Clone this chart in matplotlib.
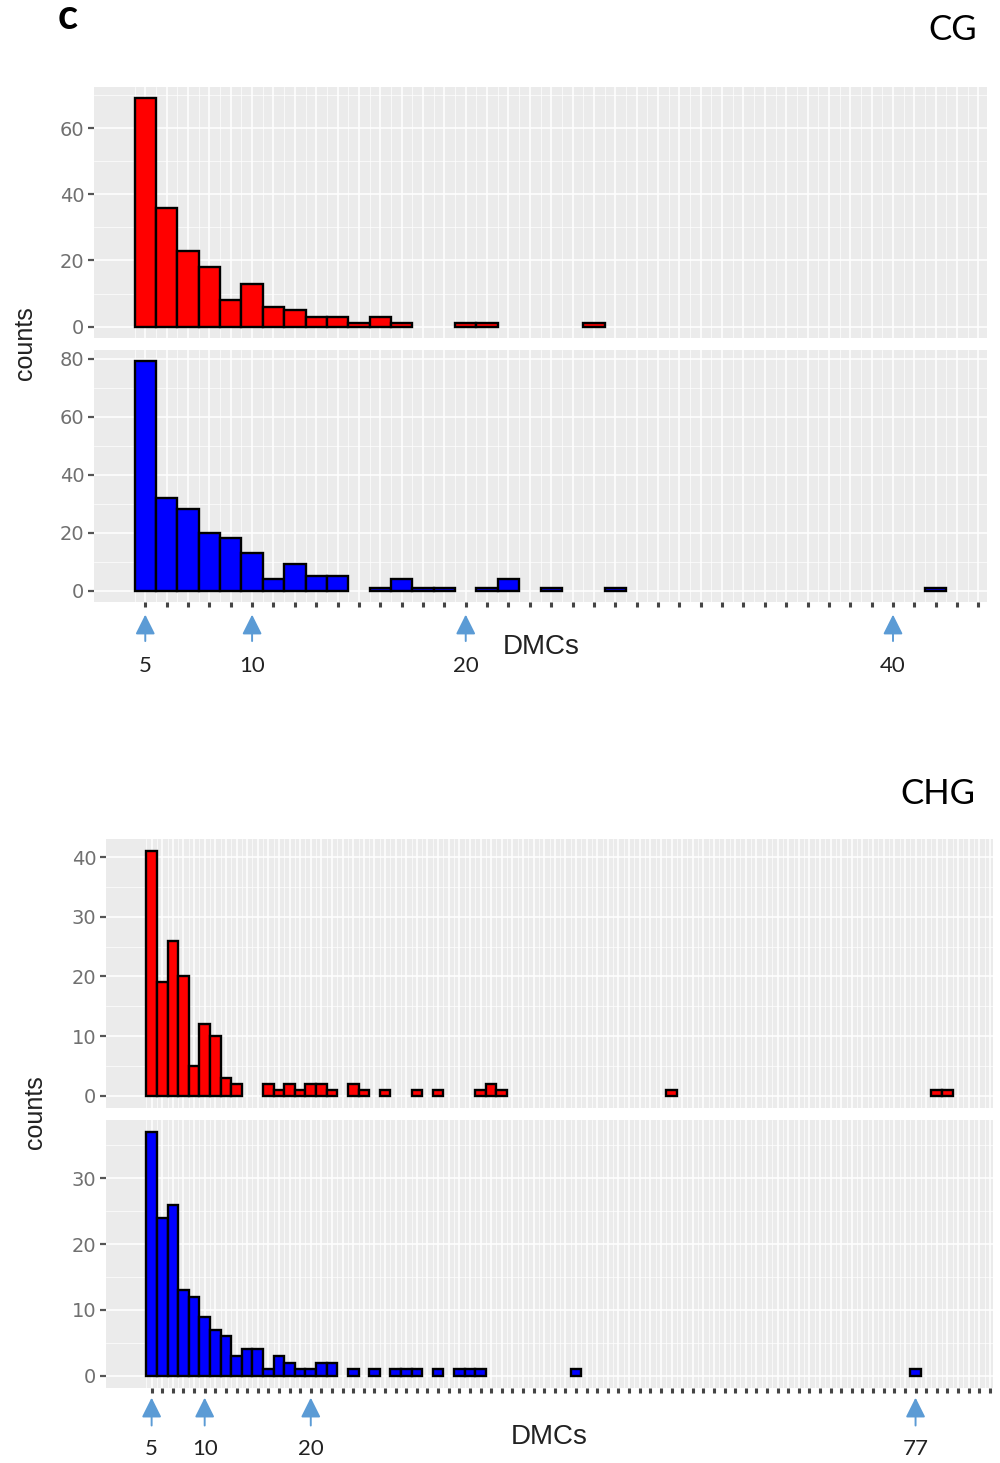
import numpy as np
import matplotlib
matplotlib.use('Agg')
import matplotlib.pyplot as plt
import matplotlib.transforms as mtransforms

# CG: number of DMCs per region vs counts (red = top facet, blue = bottom facet)
cg_dmc_red = [5, 6, 7, 8, 9, 10, 11, 12, 13, 14, 15, 16, 17, 20, 21, 26]
cg_counts_red = [69, 36, 23, 18, 8, 13, 6, 5, 3, 3, 1, 3, 1, 1, 1, 1]
cg_dmc_blue = [5, 6, 7, 8, 9, 10, 11, 12, 13, 14, 16, 17, 18, 19, 21, 22, 24, 27, 42]
cg_counts_blue = [79, 32, 28, 20, 18, 13, 4, 9, 5, 5, 1, 4, 1, 1, 1, 4, 1, 1, 1]
cg_yticks_red = [0, 20, 40, 60]
cg_yticks_blue = [0, 20, 40, 60, 80]
cg_arrows = [5, 10, 20, 40]

# CHG
chg_dmc_red = [5, 6, 7, 8, 9, 10, 11, 12, 13, 16, 17, 18, 19, 20, 21, 22,
               24, 25, 27, 30, 32, 36, 37, 38, 54, 79, 80]
chg_counts_red = [41, 19, 26, 20, 5, 12, 10, 3, 2, 2, 1, 2, 1, 2, 2, 1,
                  2, 1, 1, 1, 1, 1, 2, 1, 1, 1, 1]
chg_dmc_blue = [5, 6, 7, 8, 9, 10, 11, 12, 13, 14, 15, 16, 17, 18, 19, 20, 21, 22,
                24, 26, 28, 29, 30, 32, 34, 35, 36, 45, 77]
chg_counts_blue = [37, 24, 26, 13, 12, 9, 7, 6, 3, 4, 4, 1, 3, 2, 1, 1, 2, 2,
                   1, 1, 1, 1, 1, 1, 1, 1, 1, 1, 1]
chg_yticks_red = [0, 10, 20, 30, 40]
chg_yticks_blue = [0, 10, 20, 30]
chg_arrows = [5, 10, 20, 77]

W, H = 1000, 1463
fig = plt.figure(figsize=(W / 100, H / 100), dpi=100)
fig.patch.set_facecolor('white')

TICK_COLOR = '#707070'
ARROW_COLOR = '#5B9BD5'


def px_axes(left, top, right, bottom):
    return fig.add_axes([left / W, 1 - bottom / H, (right - left) / W, (bottom - top) / H])


def facet(ax, xs, ys, color, xlim, yticks, bottom_panel):
    ax.bar(xs, ys, width=1.0, color=color, edgecolor='black', linewidth=1.7, zorder=3)
    ymax = max(ys)
    ax.set_facecolor('#EBEBEB')
    for s in ax.spines.values():
        s.set_visible(False)
    xt = np.arange(5, int(xlim[1]) + 1)
    ax.set_xticks(xt)
    ax.set_xticks(np.arange(4.5, xlim[1], 1.0), minor=True)
    ax.set_yticks(yticks)
    step = yticks[1] - yticks[0]
    ax.set_yticks(np.arange(yticks[0] + step / 2, 1.05 * ymax, step), minor=True)
    # limits after the ticks so the tick lists do not widen the view
    ax.set_ylim(-0.05 * ymax, 1.05 * ymax)
    ax.set_xlim(*xlim)
    ax.grid(which='major', color='white', linewidth=1.1, zorder=0)
    ax.grid(which='minor', color='white', linewidth=0.5, zorder=0)
    ax.set_axisbelow(True)
    ax.tick_params(axis='y', which='major', length=4, width=1.6, color='#555555',
                   labelsize=14, labelcolor=TICK_COLOR, pad=3)
    ax.tick_params(which='minor', length=0)
    ax.set_yticklabels([str(v) for v in yticks], fontfamily='DejaVu Sans')
    if bottom_panel:
        ax.tick_params(axis='x', which='major', length=3.5, width=2.2, color='#444444',
                       labelbottom=False, pad=1)
    else:
        ax.tick_params(axis='x', which='major', length=0, labelbottom=False)


def xlimits(*xs):
    lo = min(min(x) for x in xs) - 0.5
    hi = max(max(x) for x in xs) + 0.5
    pad = 0.05 * (hi - lo)
    return (lo - pad, hi + pad)


def arrows(ax, values, tip, tail, label_y):
    trans = mtransforms.blended_transform_factory(ax.transData, ax.transAxes)
    for v in values:
        ax.annotate('', xy=(v, tip), xytext=(v, tail), xycoords=trans, textcoords=trans,
                    arrowprops=dict(arrowstyle='-|>', color=ARROW_COLOR, lw=1.4,
                                    mutation_scale=30, shrinkA=0, shrinkB=0),
                    annotation_clip=False)
        ax.text(v, label_y, str(v), transform=trans, ha='center', va='center',
                fontsize=16, fontfamily='Lato', color='#222222', clip_on=False)


# CG block
cg_lim = xlimits(cg_dmc_red, cg_dmc_blue)
ax1 = px_axes(94, 87, 987, 338)
facet(ax1, cg_dmc_red, cg_counts_red, '#FF0000', cg_lim, cg_yticks_red, False)
ax2 = px_axes(94, 350, 987, 602)
facet(ax2, cg_dmc_blue, cg_counts_blue, '#0000FF', cg_lim, cg_yticks_blue, True)
arrows(ax2, cg_arrows, -0.05, -0.155, -0.255)

# CHG block
chg_lim = xlimits(chg_dmc_red, chg_dmc_blue)
ax3 = px_axes(106, 839, 993, 1108)
facet(ax3, chg_dmc_red, chg_counts_red, '#FF0000', chg_lim, chg_yticks_red, False)
ax4 = px_axes(106, 1120, 993, 1388)
facet(ax4, chg_dmc_blue, chg_counts_blue, '#0000FF', chg_lim, chg_yticks_blue, True)
arrows(ax4, chg_arrows, -0.036, -0.14, -0.228)

# labels
fig.text(68 / W, 1 - 17 / H, 'c', fontsize=30, fontweight='bold', fontfamily='Lato',
         ha='center', va='center')
fig.text(953 / W, 1 - 30 / H, 'CG', fontsize=25, fontfamily='Lato', ha='center', va='center')
fig.text(938 / W, 1 - 794 / H, 'CHG', fontsize=25, fontfamily='Lato', ha='center', va='center')
fig.text(25 / W, 1 - 343 / H, 'counts', fontsize=18, fontfamily='Liberation Sans',
         rotation=90, ha='center', va='center', color='#222222')
fig.text(35 / W, 1 - 1112 / H, 'counts', fontsize=18, fontfamily='Liberation Sans',
         rotation=90, ha='center', va='center', color='#222222')
fig.text(541 / W, 1 - 647 / H, 'DMCs', fontsize=20, fontfamily='Liberation Sans',
         ha='center', va='center', color='#222222')
fig.text(549 / W, 1 - 1437 / H, 'DMCs', fontsize=20, fontfamily='Liberation Sans',
         ha='center', va='center', color='#222222')

fig.savefig('out.png', dpi=100)
